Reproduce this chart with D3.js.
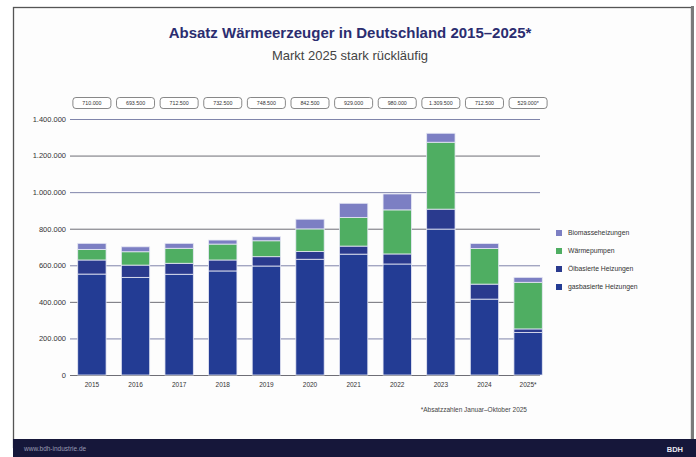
<!DOCTYPE html>
<html>
<head>
<meta charset="utf-8">
<script src="https://cdn.jsdelivr.net/npm/d3@7"></script>
<style>
  body { margin: 0; background: #fff; }
  svg { display: block; font-family: "Liberation Sans", "DejaVu Sans", sans-serif; }
</style>
</head>
<body>
<svg width="696" height="457"></svg>
<script>
// chart values
const years = ["2015", "2016", "2017", "2018", "2019", "2020", "2021", "2022", "2023", "2024", "2025*"];
const gas = [552000, 534000, 551000, 569000, 596000, 633000, 661000, 607000, 798000, 415000, 232000];
const oil = [77000, 67000, 60000, 60000, 51000, 42000, 44000, 55000, 109000, 82000, 20000];
const heatPumps = [58000, 73000, 82000, 87000, 87000, 124000, 157000, 241000, 366000, 195000, 255000];
const biomass = [33000, 27000, 27000, 22000, 22000, 53000, 77000, 87000, 49000, 27000, 27000];
const totalLabels = ["710.000", "693.500", "712.500", "732.500", "748.500", "842.500", "929.000", "980.000", "1.309.500", "712.500", "529.000*"];
const yTicks = [0, 200000, 400000, 600000, 800000, 1000000, 1200000, 1400000];

const seriesKeys = ["gas", "oil", "wp", "bio"];
const seriesNames = { bio: "Biomasseheizungen", wp: "Wärmepumpen", oil: "Ölbasierte Heizungen", gas: "gasbasierte Heizungen" };
const colors = { gas: "#233c94", oil: "#2a3a8e", wp: "#4fae62", bio: "#7c7fc3" };

const rows = years.map((y, i) => ({ year: y, gas: gas[i], oil: oil[i], wp: heatPumps[i], bio: biomass[i] }));

const svg = d3.select("svg");

// frame
svg.append("rect").attr("x", 13.5).attr("y", 7.5).attr("width", 678).attr("height", 440)
    .attr("fill", "#fdfdfd").attr("stroke", "#555").attr("stroke-width", 1.3);
svg.append("line").attr("x1", 692.5).attr("x2", 692.5).attr("y1", 6).attr("y2", 440)
    .attr("stroke", "#7a7a7a").attr("stroke-width", 3);

// footer band
svg.append("rect").attr("x", 13).attr("y", 439).attr("width", 683).attr("height", 18).attr("fill", "#16173a");
svg.append("text").attr("x", 24).attr("y", 451).attr("font-size", 6.5).attr("fill", "#9a9cb4").text("www.bdh-industrie.de");
svg.append("text").attr("x", 683).attr("y", 451.5).attr("text-anchor", "end").attr("font-size", 7.5)
    .attr("font-weight", "bold").attr("fill", "#e8e8f0").text("BDH");

// titles
svg.append("text").attr("x", 350).attr("y", 38).attr("text-anchor", "middle").attr("font-size", 15)
    .attr("font-weight", "bold").attr("fill", "#2b2d70").text("Absatz Wärmeerzeuger in Deutschland 2015–2025*");
svg.append("text").attr("x", 350).attr("y", 60).attr("text-anchor", "middle").attr("font-size", 13)
    .attr("fill", "#444").text("Markt 2025 stark rückläufig");

const x = d3.scaleBand().domain(years).range([69, 551]).paddingInner(0.35).paddingOuter(0.2);
const y = d3.scaleLinear().domain([0, 1400000]).range([375, 119]);

const g = svg.append("g");

// grid + y labels
const fmt = d3.formatLocale({ decimal: ",", thousands: ".", grouping: [3], currency: ["", "€"] }).format(",d");
g.append("g").attr("transform", "translate(70,0)")
    .call(d3.axisLeft(y).tickValues(yTicks).tickFormat(fmt).tickSize(-470).tickPadding(4))
    .call(a => a.select(".domain").remove())
    .call(a => a.selectAll(".tick line").attr("stroke", (d, i) => i % 2 ? "#7f84aa" : "#6e6e76").attr("stroke-width", 1))
    .call(a => a.selectAll(".tick text").attr("font-size", 7.5).attr("fill", "#333"));

// stacked bars
const stack = d3.stack().keys(seriesKeys)(rows);
g.append("g").selectAll("g").data(stack).join("g")
    .attr("fill", d => colors[d.key])
  .selectAll("rect").data(d => d).join("rect")
    .attr("x", d => x(d.data.year))
    .attr("width", x.bandwidth())
    .attr("y", d => y(d[1]))
    .attr("height", d => y(d[0]) - y(d[1]))
    .attr("stroke", "#e6e8f4").attr("stroke-width", 0.8);

// x labels
g.append("g").attr("transform", "translate(0,375)")
    .call(d3.axisBottom(x).tickSize(0).tickPadding(7))
    .call(a => a.select(".domain").remove())
    .call(a => a.selectAll(".tick text").attr("font-size", 6.5).attr("fill", "#333"));

// total labels in boxes
const tl = g.append("g").selectAll("g").data(years).join("g")
    .attr("transform", d => "translate(" + (x(d) + x.bandwidth() / 2) + ",103)");
tl.append("rect").attr("x", -19).attr("y", -5.5).attr("width", 38).attr("height", 11).attr("rx", 3)
    .attr("fill", "#fff").attr("stroke", "#555").attr("stroke-width", 0.7);
tl.append("text").attr("text-anchor", "middle").attr("dy", "0.35em").attr("font-size", 5.3).attr("fill", "#333")
    .text((d, i) => totalLabels[i]);

// legend
const legendOrder = ["bio", "wp", "oil", "gas"];
const lg = svg.append("g").selectAll("g").data(legendOrder).join("g")
    .attr("transform", (d, i) => "translate(556," + (233 + i * 18) + ")");
lg.append("rect").attr("x", 0).attr("y", -3).attr("width", 6).attr("height", 6).attr("fill", d => colors[d]);
lg.append("text").attr("x", 12).attr("dy", "0.35em").attr("font-size", 6.8).attr("fill", "#333").text(d => seriesNames[d]);

// footnote
svg.append("text").attr("x", 527).attr("y", 412).attr("text-anchor", "end").attr("font-size", 6.5)
    .attr("fill", "#444").text("*Absatzzahlen Januar–Oktober 2025");
</script>
</body>
</html>
